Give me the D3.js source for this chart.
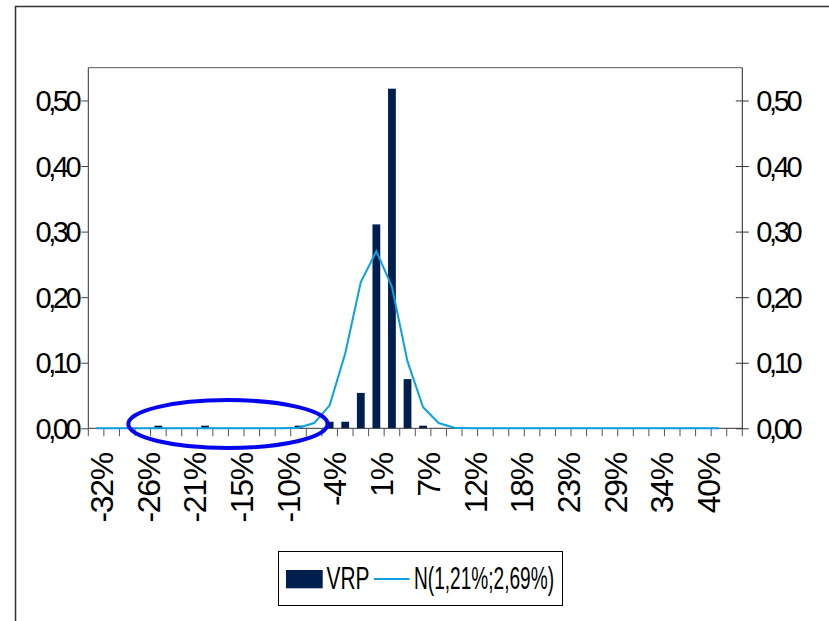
<!DOCTYPE html>
<html>
<head>
<meta charset="utf-8">
<script src="https://cdn.jsdelivr.net/npm/d3@7"></script>
<style>
  body { margin: 0; background: #fff; }
  svg { display: block; }
  text { font-family: "Liberation Sans", Arial, sans-serif; fill: #000; }
</style>
</head>
<body>
<div id="chart"></div>
<script>
// Histogram of VRP returns with a fitted normal curve N(1,21%; 2,69%).
// 42 bins on the x axis, one label every 3 bins.

const binCount = 42;
const categories = d3.range(binCount);

// tick labels, one every 3 bins (bins 0, 3, 6, ...)
const tickLabels = ["-32%", "-26%", "-21%", "-15%", "-10%", "-4%", "1%",
                    "7%", "12%", "18%", "23%", "29%", "34%", "40%"];

// observed frequency per bin (bars)
const vrp = [0, 0, 0, 0, 0.004, 0, 0, 0.004, 0, 0, 0, 0, 0, 0.004, 0,
             0.010, 0.010, 0.054, 0.311, 0.518, 0.075, 0.004,
             0, 0, 0, 0, 0, 0, 0, 0, 0, 0, 0, 0, 0, 0, 0, 0, 0, 0, 0, 0];

// normal curve value per bin (line), bins 0..40
const normal = [0, 0, 0, 0, 0, 0, 0, 0, 0, 0, 0, 0, 0,
                0.001, 0.008, 0.035, 0.114, 0.223, 0.270, 0.216, 0.102, 0.032, 0.008, 0.001,
                0, 0, 0, 0, 0, 0, 0, 0, 0, 0, 0, 0, 0, 0, 0, 0, 0];

const yTicks = [0, 0.1, 0.2, 0.3, 0.4, 0.5];
const legendBar = "VRP";
const legendLine = "N(1,21%;2,69%)";

const W = 829, H = 621;
const plot = { left: 88.3, right: 742.3, top: 67.7, bottom: 428.3 };

const svg = d3.select("#chart").append("svg")
  .attr("width", W)
  .attr("height", H);

// outer chart frame (right and bottom run off the picture)
svg.append("rect")
  .attr("x", 15.5).attr("y", 6.5)
  .attr("width", 900).attr("height", 700)
  .attr("fill", "none")
  .attr("stroke", "#333")
  .attr("stroke-width", 1.5);

const x = d3.scaleBand()
  .domain(categories)
  .range([plot.left, plot.right])
  .paddingInner(0)
  .paddingOuter(0);

const y = d3.scaleLinear()
  .domain([0, 0.55])
  .range([plot.bottom, plot.top]);

const fmt = d => d3.format(".2f")(d).replace(".", ",");
const cx = i => x(i) + x.bandwidth() / 2;

// plot area top border
svg.append("line")
  .attr("x1", plot.left).attr("x2", plot.right)
  .attr("y1", plot.top).attr("y2", plot.top)
  .attr("stroke", "#555");

// bars
const barW = x.bandwidth() * 0.5;
svg.append("g")
  .selectAll("rect")
  .data(vrp.map((v, i) => ({ i, v })).filter(d => d.v > 0))
  .join("rect")
    .attr("x", d => cx(d.i) - barW / 2)
    .attr("width", barW)
    .attr("y", d => y(d.v))
    .attr("height", d => y(0) - y(d.v))
    .attr("fill", "#001e4e");

// x axis line and ticks at bin edges
const xAxis = svg.append("g");
xAxis.append("line")
  .attr("x1", plot.left).attr("x2", plot.right)
  .attr("y1", y(0)).attr("y2", y(0))
  .attr("stroke", "#333");
xAxis.selectAll("line.tick")
  .data(d3.range(binCount + 1))
  .join("line")
    .attr("class", "tick")
    .attr("x1", k => plot.left + k * x.step())
    .attr("x2", k => plot.left + k * x.step())
    .attr("y1", y(0))
    .attr("y2", y(0) + 8)
    .attr("stroke", "#555");

xAxis.selectAll("text")
  .data(tickLabels)
  .join("text")
    .attr("transform", (d, j) => `translate(${cx(j * 3) + 5.6},453) rotate(-90)`)
    .attr("dy", "0.35em")
    .attr("text-anchor", "end")
    .style("font-size", "32px")
    .style("letter-spacing", "-1.3px")
    .text(d => d);

// left axis
const yLeft = svg.append("g").attr("transform", `translate(${plot.left},0)`)
  .call(d3.axisLeft(y).tickValues(yTicks).tickFormat(fmt).tickSize(7).tickPadding(0));
yLeft.select(".domain").attr("stroke", "#333").attr("d", `M0,${plot.top}V${plot.bottom}`);
yLeft.selectAll(".tick line").attr("stroke", "#444");
yLeft.selectAll(".tick text")
  .attr("x", -10)
  .attr("dy", "0.35em")
  .style("font-family", "'Liberation Sans', Arial, sans-serif")
  .style("font-size", "29px")
  .style("letter-spacing", "-3.4px")
  .attr("fill", "#000");

// right axis, ticks cross the line
const yRight = svg.append("g").attr("transform", `translate(${plot.right},0)`)
  .call(d3.axisRight(y).tickValues(yTicks).tickFormat(fmt).tickSize(6.5).tickPadding(0));
yRight.select(".domain").attr("stroke", "#222").attr("d", `M0,${plot.top}V${plot.bottom}`);
yRight.selectAll(".tick line").attr("x1", -6.5).attr("stroke", "#333");
yRight.selectAll(".tick text")
  .attr("x", 14)
  .attr("dy", "0.35em")
  .style("font-family", "'Liberation Sans', Arial, sans-serif")
  .style("font-size", "29px")
  .style("letter-spacing", "-3.4px")
  .attr("fill", "#000");

// normal curve
const line = d3.line()
  .x((d, i) => cx(i))
  .y(d => y(d));
svg.append("path")
  .datum(normal)
  .attr("d", line)
  .attr("fill", "none")
  .attr("stroke", "#0aa0e2")
  .attr("stroke-width", 2);

// annotation ellipse around the left tail
const edge = k => plot.left + k * x.step();
const ell = { k0: 2.57, k1: 15.37, v0: 0.043, v1: -0.030 };
svg.append("ellipse")
  .attr("cx", (edge(ell.k0) + edge(ell.k1)) / 2)
  .attr("cy", (y(ell.v0) + y(ell.v1)) / 2)
  .attr("rx", (edge(ell.k1) - edge(ell.k0)) / 2)
  .attr("ry", (y(ell.v1) - y(ell.v0)) / 2)
  .attr("fill", "none")
  .attr("stroke", "#0505ee")
  .attr("stroke-width", 4);

// legend
const lg = svg.append("g");
lg.append("rect")
  .attr("x", 278.5).attr("y", 551.5)
  .attr("width", 284).attr("height", 54)
  .attr("fill", "#fff")
  .attr("stroke", "#000");
lg.append("rect")
  .attr("x", 286).attr("y", 570)
  .attr("width", 36.7).attr("height", 18.3)
  .attr("fill", "#001e4e");
lg.append("text")
  .attr("x", 326.5).attr("y", 588.5)
  .attr("textLength", 43)
  .attr("lengthAdjust", "spacingAndGlyphs")
  .style("font-size", "32px")
  .text(legendBar);
lg.append("line")
  .attr("x1", 374).attr("x2", 409.5)
  .attr("y1", 579).attr("y2", 579)
  .attr("stroke", "#0aa0e2")
  .attr("stroke-width", 2);
lg.append("text")
  .attr("x", 414).attr("y", 588.5)
  .attr("textLength", 140)
  .attr("lengthAdjust", "spacingAndGlyphs")
  .style("font-size", "32px")
  .text(legendLine);
</script>
</body>
</html>
